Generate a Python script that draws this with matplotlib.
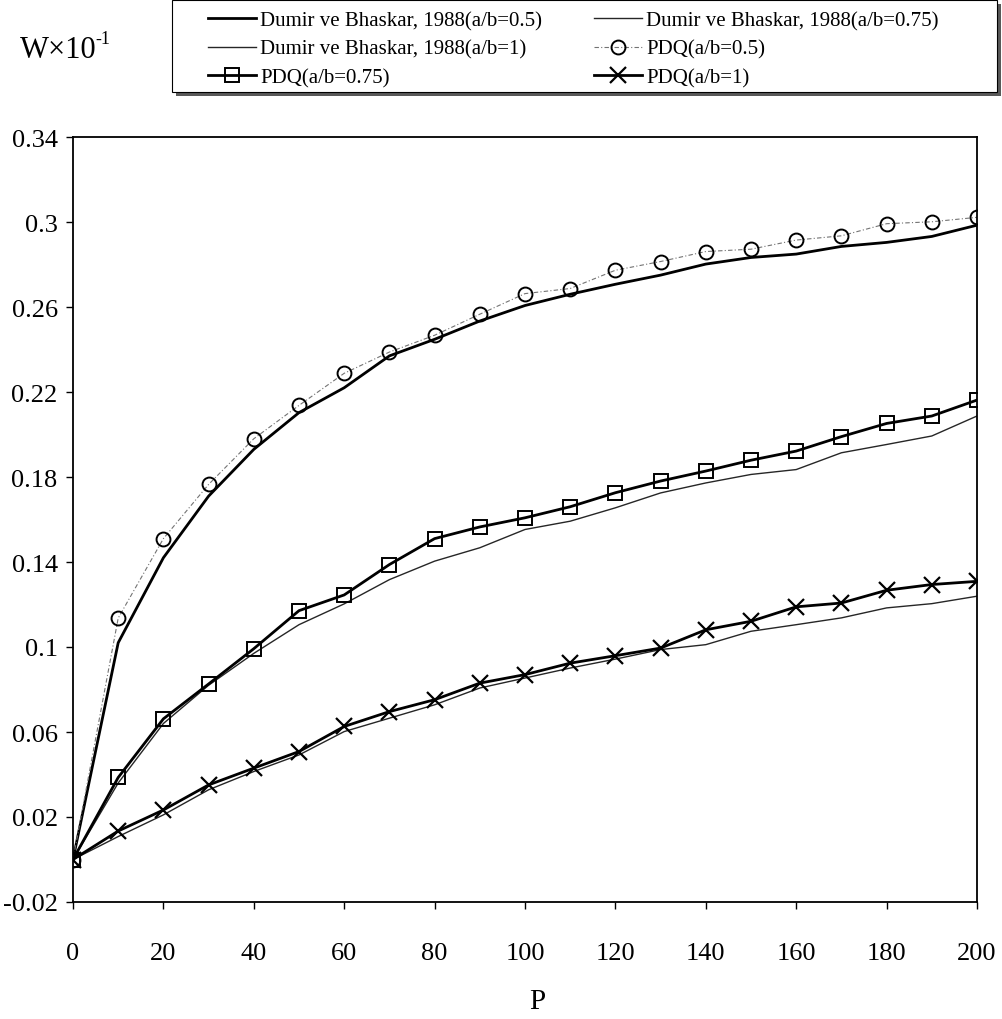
import numpy as np
import matplotlib
matplotlib.use('Agg')
import matplotlib.pyplot as plt
from matplotlib.patches import Rectangle

plt.rcParams['font.family'] = ['Liberation Serif', 'DejaVu Serif']

# load values P = 0..200 step 10
P = [0, 10, 20, 30, 40, 50, 60, 70, 80, 90, 100,
     110, 120, 130, 140, 150, 160, 170, 180, 190, 200]

# Dumir ve Bhaskar, 1988 (reference curves)
dumir_05 = [0.0, 0.102, 0.142, 0.171, 0.193, 0.2103, 0.222, 0.237, 0.2448, 0.2534, 0.2607,
            0.266, 0.2707, 0.275, 0.2802, 0.2833, 0.2849, 0.2885, 0.2904, 0.2932, 0.2985]
dumir_075 = [0.0, 0.036, 0.064, 0.082, 0.097, 0.1105, 0.1203, 0.1317, 0.1404, 0.1467, 0.1553,
             0.1592, 0.1655, 0.1725, 0.1772, 0.1812, 0.1835, 0.1914, 0.1953, 0.1993, 0.2087]
dumir_1 = [0.0, 0.0108, 0.021, 0.0328, 0.0414, 0.0492, 0.0602, 0.0665, 0.0728, 0.0807, 0.0854,
           0.0901, 0.0943, 0.0988, 0.1011, 0.1074, 0.1105, 0.1137, 0.1184, 0.1204, 0.1239]

# PDQ results
pdq_05 = [0.0, 0.1136, 0.151, 0.1765, 0.198, 0.2137, 0.2288, 0.2388, 0.2467, 0.2566, 0.2663,
          0.2687, 0.2773, 0.2814, 0.2861, 0.2872, 0.2915, 0.2935, 0.2992, 0.3001, 0.3022]
pdq_075 = [0.0, 0.0386, 0.0662, 0.0826, 0.0992, 0.1171, 0.1245, 0.1388, 0.151, 0.1565, 0.1608,
           0.166, 0.1726, 0.1781, 0.1828, 0.1879, 0.1922, 0.199, 0.2052, 0.2087, 0.2162]
pdq_1 = [0.0, 0.0134, 0.0233, 0.0351, 0.043, 0.0508, 0.0626, 0.0696, 0.0752, 0.083, 0.087,
         0.0924, 0.0959, 0.0995, 0.1081, 0.1121, 0.1189, 0.1207, 0.1267, 0.1294, 0.1309]

labels = ['Dumir ve Bhaskar, 1988(a/b=0.5)', 'Dumir ve Bhaskar, 1988(a/b=0.75)',
          'Dumir ve Bhaskar, 1988(a/b=1)', 'PDQ(a/b=0.5)', 'PDQ(a/b=0.75)', 'PDQ(a/b=1)']

x_ticks = [0, 20, 40, 60, 80, 100, 120, 140, 160, 180, 200]
y_ticks = [-0.02, 0.02, 0.06, 0.1, 0.14, 0.18, 0.22, 0.26, 0.3, 0.34]

W, H = 1002, 1020
fig = plt.figure(figsize=(W / 100, H / 100), dpi=100)
ax = fig.add_axes([73 / W, 1 - 903 / H, 904 / W, 765 / H])

l1, = ax.plot(P, dumir_05, color='black', lw=2.0)
l2, = ax.plot(P, dumir_075, color='0.15', lw=1.0)
l3, = ax.plot(P, dumir_1, color='0.15', lw=1.0)
l4, = ax.plot(P, pdq_05, color='0.45', lw=0.8, ls=(0, (4, 2, 1, 2)),
              marker='o', ms=10, mfc='none', mec='black', mew=1.4)
l5, = ax.plot(P, pdq_075, color='black', lw=2.0,
              marker='s', ms=10, mfc='none', mec='black', mew=1.4)
l6, = ax.plot(P, pdq_1, color='black', lw=2.0,
              marker='x', ms=11, mec='black', mew=1.6)

ax.set_xlim(0, 200)
ax.set_ylim(-0.02, 0.34)
ax.set_xticks(x_ticks)
ax.set_yticks(y_ticks)
ax.set_yticklabels([f'{v:g}' for v in y_ticks])
ax.tick_params(axis='both', direction='out', length=5, width=1, labelsize=19)
ax.tick_params(axis='x', pad=24)
ax.tick_params(axis='y', pad=6)
for s in ax.spines.values():
    s.set_linewidth(1.3)
    s.set_color('black')

fig.text(20 / W, 1 - 50 / H, 'W\u00d710', fontsize=22, va='center', ha='left')
fig.text(95 / W, 1 - 40 / H, '-1', fontsize=13, va='center', ha='left')
fig.text(537 / W, 1 - 1002 / H, 'P', fontsize=21, va='center', ha='center')

# legend box with shadow, drawn in pixel coords
shadow = Rectangle((176 / W, 1 - 97 / H), 825 / W, 92 / H, transform=fig.transFigure,
                   facecolor='0.35', edgecolor='none', zorder=5)
frame = Rectangle((172 / W, 1 - 93 / H), 825 / W, 92 / H, transform=fig.transFigure,
                  facecolor='white', edgecolor='black', lw=0.8, zorder=6)
fig.add_artist(shadow)
fig.add_artist(frame)

handles = [l1, l3, l5, l2, l4, l6]
order = [0, 2, 4, 1, 3, 5]
leg = fig.legend(handles, [labels[i] for i in order], ncol=2, loc='upper left',
                 bbox_to_anchor=(208 / W, 1 - 12 / H), bbox_transform=fig.transFigure,
                 fontsize=15, frameon=False, handlelength=2.3,
                 columnspacing=2.5, borderpad=0, labelspacing=0.42, borderaxespad=0,
                 handletextpad=0.2)
leg.set_zorder(7)

fig.savefig('out.png', dpi=100)
